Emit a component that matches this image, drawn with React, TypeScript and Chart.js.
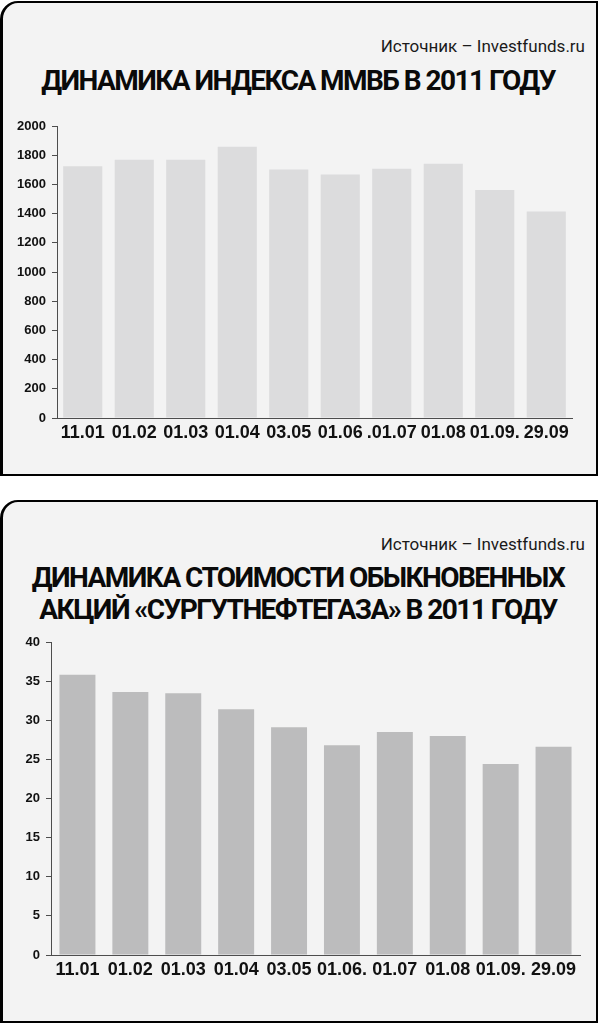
import React, { useEffect, useRef } from 'react';
import { Chart, registerables } from 'chart.js';

Chart.register(...registerables);

// ---- data ----
const SOURCE = 'Источник – Investfunds.ru';

const micexTitle = ['ДИНАМИКА ИНДЕКСА ММВБ В 2011 ГОДУ'];
const micexDates = ['11.01', '01.02', '01.03', '01.04', '03.05', '01.06', '.01.07', '01.08', '01.09.', '29.09'];
const micexValues = [1724, 1768, 1768, 1858, 1702, 1667, 1708, 1741, 1561, 1414];
const micexMax = 2000;
const micexStep = 200;

const sngsTitle = ['ДИНАМИКА СТОИМОСТИ ОБЫКНОВЕННЫХ', 'АКЦИЙ «СУРГУТНЕФТЕГАЗА» В 2011 ГОДУ'];
const sngsDates = ['11.01', '01.02', '01.03', '01.04', '03.05', '01.06.', '01.07', '01.08', '01.09.', '29.09'];
const sngsValues = [35.8, 33.6, 33.45, 31.4, 29.1, 26.8, 28.5, 28.0, 24.4, 26.6];
const sngsMax = 40;
const sngsStep = 5;

const AXIS = '#4d4d4d';
const TICK_FONT = '"Liberation Sans", Arial, sans-serif';

interface BarChartProps {
  labels: string[];
  values: number[];
  max: number;
  step: number;
  color: string;
  top: number;
  height: number;
  padTop: number;
  axisWidth: number;
  padRight: number;
  barPct: number;
}

const BarChart: React.FC<BarChartProps> = ({ labels, values, max, step, color, top, height, padTop, axisWidth, padRight, barPct }) => {
  const ref = useRef<HTMLCanvasElement>(null);

  useEffect(() => {
    if (!ref.current) return;
    const chart = new Chart(ref.current, {
      type: 'bar',
      data: {
        labels,
        datasets: [{
          data: values,
          backgroundColor: color,
          borderWidth: 0,
          barPercentage: barPct,
          categoryPercentage: 1,
        }],
      },
      options: {
        animation: false,
        responsive: false,
        events: [],
        layout: { padding: { top: padTop, right: padRight, left: 0, bottom: 0 } },
        plugins: { legend: { display: false }, tooltip: { enabled: false } },
        scales: {
          x: {
            grid: { display: false, drawTicks: false },
            border: { display: true, color: AXIS, width: 1 },
            ticks: { color: '#111', font: { family: TICK_FONT, size: 18, weight: 'bold' }, padding: 4, maxRotation: 0, autoSkip: false },
            afterFit: (s: any) => { s.height = 30; },
          },
          y: {
            min: 0,
            max,
            ticks: {
              stepSize: step,
              color: '#111',
              font: { family: TICK_FONT, size: 13, weight: 'bold' },
              padding: 6,
              callback: (v: any) => String(v),
            },
            grid: { drawOnChartArea: false, drawTicks: true, tickLength: 5, color: AXIS },
            border: { display: true, color: AXIS, width: 1 },
            afterFit: (s: any) => { s.width = axisWidth; },
          },
        },
      },
    });
    return () => chart.destroy();
  }, []);

  return (
    <canvas
      ref={ref}
      width={598}
      height={height}
      style={{ position: 'absolute', left: 0, top, width: 598, height }}
    />
  );
};

const panelStyle = (top: number, height: number): React.CSSProperties => ({
  position: 'absolute',
  left: 0,
  top,
  width: 598,
  height,
  boxSizing: 'border-box',
  border: '2px solid #000',
  borderLeftWidth: 3,
  borderTopLeftRadius: 18,
  background: '#f3f3f3',
});

const sourceStyle = (top: number): React.CSSProperties => ({
  position: 'absolute',
  right: 13,
  top,
  fontFamily: 'Roboto, sans-serif',
  fontSize: 17,
  lineHeight: '20px',
  color: '#1a1a1a',
  whiteSpace: 'nowrap',
});

const titleStyle = (top: number): React.CSSProperties => ({
  position: 'absolute',
  left: 0,
  top,
  width: 596,
  textAlign: 'center',
  fontFamily: 'Roboto, sans-serif',
  fontWeight: 700,
  fontSize: 28,
  letterSpacing: '-1.55px',
  lineHeight: '32px',
  color: '#0a0a0a',
  whiteSpace: 'nowrap',
});

const App: React.FC = () => (
  <div style={{ position: 'absolute', left: 0, top: 0, width: 598, height: 1023, background: '#fff', overflow: 'hidden' }}>
    <div style={panelStyle(1, 475)} />
    <div style={sourceStyle(36)}>{SOURCE}</div>
    <div style={titleStyle(65)}>
      {micexTitle.map((t) => <div key={t}>{t}</div>)}
    </div>
    <BarChart
      labels={micexDates}
      values={micexValues}
      max={micexMax}
      step={micexStep}
      color="#dcdcdd"
      top={108}
      height={340}
      padTop={18}
      axisWidth={57}
      padRight={26}
      barPct={0.76}
    />

    <div style={panelStyle(500, 523)} />
    <div style={sourceStyle(534)}>{SOURCE}</div>
    <div style={titleStyle(562)}>
      {sngsTitle.map((t) => <div key={t}>{t}</div>)}
    </div>
    <BarChart
      labels={sngsDates}
      values={sngsValues}
      max={sngsMax}
      step={sngsStep}
      color="#bcbcbd"
      top={622}
      height={363}
      padTop={20}
      axisWidth={51}
      padRight={18}
      barPct={0.68}
    />
  </div>
);

export default App;
